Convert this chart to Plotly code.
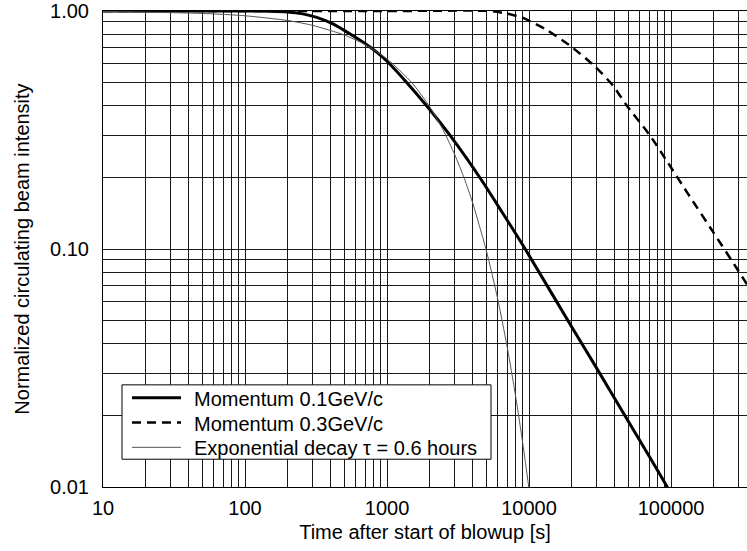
import plotly.graph_objects as go

# ---- data ----
t_p01 = [10, 100, 150, 200, 250, 320, 420, 550, 700, 850, 1000, 1380, 1900, 2780,
         4650, 6500, 9400, 20000, 30000, 50000, 70000, 95000, 100000]
y_p01 = [1.0, 1.0, 0.998, 0.99, 0.975, 0.94, 0.88, 0.80, 0.73, 0.67, 0.615, 0.50, 0.40, 0.30,
         0.194, 0.142, 0.100, 0.047, 0.0315, 0.0189, 0.0135, 0.0099, 0.0094]

t_p03 = [10, 1000, 5300, 7000, 9080, 13000, 19450, 29200, 39000, 48900, 71100, 95300,
         129700, 197700, 291500, 342800, 400000]
y_p03 = [1.0, 1.0, 1.0, 0.975, 0.935, 0.84, 0.715, 0.584, 0.486, 0.40, 0.30, 0.23,
         0.173, 0.118, 0.0826, 0.071, 0.061]

t_exp = [10, 50, 100, 200, 300, 500, 700, 1000, 1500, 2000, 2500, 3000, 3500, 4000,
         5000, 6000, 7000, 8000, 8500, 9000, 9500, 10000]
y_exp = [0.9954, 0.977, 0.955, 0.912, 0.870, 0.793, 0.723, 0.629, 0.499, 0.396, 0.314,
         0.249, 0.198, 0.157, 0.0988, 0.0622, 0.0391, 0.0246, 0.0195, 0.0155, 0.0123, 0.0098]

series_names = ["Momentum 0.1GeV/c", "Momentum 0.3GeV/c", "Exponential decay \u03c4 = 0.6 hours"]

x_grid = [m * 10 ** e for e in range(1, 6) for m in range(1, 10)]
x_labels = {10: "10", 100: "100", 1000: "1000", 10000: "10000", 100000: "100000"}
x_ticktext = [x_labels.get(v, "") for v in x_grid]
y_grid = [m * 10 ** e for e in (-2, -1) for m in range(1, 10)] + [1.0]
y_labels = {0.01: "0.01", 0.1: "0.10", 1.0: "1.00"}
y_ticktext = [y_labels.get(round(v, 6), "") for v in y_grid]

FONT = "Liberation Sans, Arial, Helvetica, sans-serif"
W, H = 747, 551
ML, MR, MT, MB = 103, 0, 7, 64
PW, PH = W - ML - MR, H - MT - MB


def px_x(p):
    return (p - ML) / PW


def px_y(p):
    return (H - MB - p) / PH


styles = [
    dict(color="black", width=3),
    dict(color="black", width=2.5, dash="9px,6px"),
    dict(color="#555555", width=1),
]

fig = go.Figure()
for tx, ty, nm, st in zip([t_p01, t_p03, t_exp], [y_p01, y_p03, y_exp], series_names, styles):
    fig.add_trace(go.Scatter(x=tx, y=ty, mode="lines", name=nm, showlegend=False,
                             line=dict(shape="spline", smoothing=0.6, **st)))

# legend drawn as a boxed key inside the plot area
shapes = [dict(type="rect", xref="paper", yref="paper", layer="above",
               x0=px_x(122), x1=px_x(491), y0=px_y(459), y1=px_y(384),
               line=dict(color="black", width=1), fillcolor="white")]
annotations = []
for i, (nm, st) in enumerate(zip(series_names, styles)):
    yy = px_y(397 + 25 * i)
    shapes.append(dict(type="line", xref="paper", yref="paper", layer="above",
                       x0=px_x(132), x1=px_x(181), y0=yy, y1=yy, line=st))
    annotations.append(dict(text=nm, xref="paper", yref="paper", x=px_x(192), y=px_y(398 + 25 * i),
                            xanchor="left", yanchor="middle", showarrow=False,
                            font=dict(family=FONT, size=20, color="black")))

fig.update_layout(
    width=W, height=H,
    margin=dict(l=ML, r=MR, t=MT, b=MB, pad=0),
    paper_bgcolor="white", plot_bgcolor="white",
    font=dict(family=FONT, size=20, color="black"),
    showlegend=False,
    shapes=shapes, annotations=annotations,
)
fig.update_xaxes(
    type="log", range=[1, 5.535],
    tickmode="array", tickvals=x_grid, ticktext=x_ticktext,
    showgrid=True, gridcolor="#1a1a1a", gridwidth=1,
    showline=True, linecolor="black", linewidth=1, mirror=True,
    ticks="", ticklabelstandoff=3, zeroline=False, ticklabeloverflow="allow",
    tickfont=dict(size=20),
    title=dict(text="Time after start of blowup [s]", font=dict(size=20), standoff=6),
)
fig.update_yaxes(
    type="log", range=[-2, 0],
    tickmode="array", tickvals=y_grid, ticktext=y_ticktext,
    showgrid=True, gridcolor="#1a1a1a", gridwidth=1,
    showline=True, linecolor="black", linewidth=1,
    ticks="", ticklabelstandoff=9, zeroline=False, ticklabeloverflow="allow",
    tickfont=dict(size=20),
    title=dict(text="Normalized circulating beam intensity", font=dict(size=20), standoff=15),
)

fig.write_html("out.html", config={"displayModeBar": False},
               post_script="document.body.style.margin='0';document.body.style.padding='0';")
